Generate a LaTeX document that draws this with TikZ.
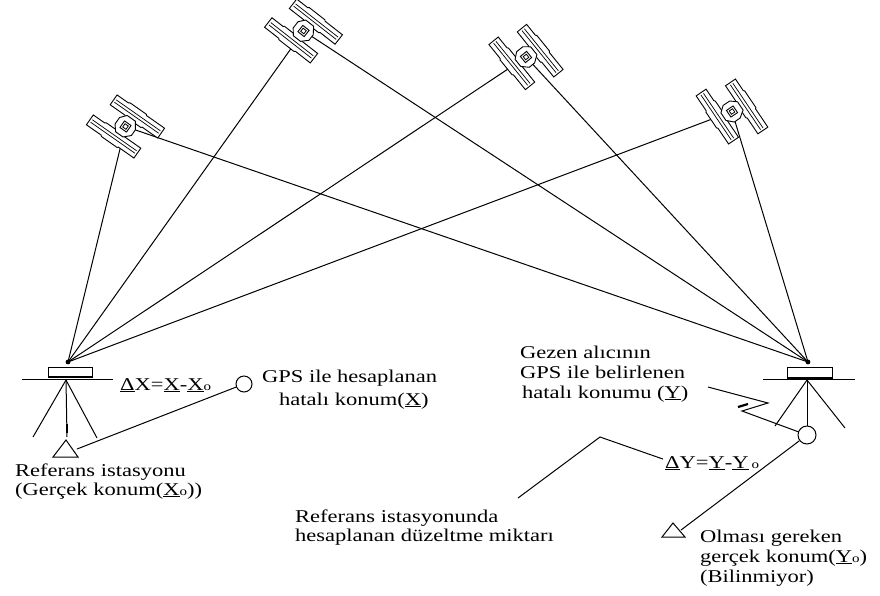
\documentclass[tikz,border=0pt]{standalone}
\usepackage{fontspec}
\setmainfont{Liberation Serif}[FakeStretch=1.25]
\newcommand\subo{{\fontsize{12}{12}\selectfont o}}
\begin{document}
\begin{tikzpicture}[x=1pt,y=-1pt,
  wire/.style={line width=1pt},
  lbl/.style={anchor=base west,inner sep=0pt,font=\fontsize{18}{20}\selectfont},
  ring/.style={draw,circle,line width=1pt,inner sep=0pt},
  sat/.pic={
    % two solar panels either side of the body
    \foreach \dx/\dy in {4/-15,-4/15}{
      \filldraw[fill=white,line width=0.9pt]
        (\dx-29,\dy-6) -- (\dx-15,\dy-6) -- (\dx-14,\dy-7) -- (\dx+6,\dy-7) -- (\dx+7,\dy-6)
        -- (\dx+29,\dy-6) -- (\dx+29,\dy+6) -- (\dx+10,\dy+6) -- (\dx+9,\dy+7) -- (\dx-10,\dy+7)
        -- (\dx-11,\dy+6) -- (\dx-29,\dy+6) -- cycle;
      \draw[line width=0.7pt] (\dx-27,\dy-1.5) -- (\dx+27,\dy-1.5);
      \draw[line width=0.7pt] (\dx-27,\dy+1.5) -- (\dx+27,\dy+1.5);
    }
    % body
    \filldraw[fill=white,line width=0.9pt] (-10,-4) -- (-5,-10) -- (5,-10) -- (10,-3) -- (10,4) -- (4,10) -- (-5,10) -- (-10,4) -- cycle;
    \draw[line width=0.9pt] (-4,-4) rectangle (4,4);
    \draw[line width=0.8pt] (-2,-2) rectangle (2,2);
  }
]
\useasboundingbox[fill=white] (0,0) rectangle (880,595);

% satellites and receiver antennas
\coordinate (s1) at (125.5,126.5);
\coordinate (s2) at (303.5,31);
\coordinate (s3) at (526,57);
\coordinate (s4) at (732,111.5);
\coordinate (L) at (68,362);
\coordinate (R) at (808,362);

% signal paths
\foreach \s in {s1,s2,s3,s4}{
  \draw[wire] (\s) -- (L);
  \draw[wire] (\s) -- (R);
}
\fill (L) circle (2.4);
\fill (R) circle (2.4);

\pic[rotate=-35] at (s1) {sat};
\pic[rotate=-38] at (s2) {sat};
\pic[rotate=-51] at (s3) {sat};
\pic[rotate=-56] at (s4) {sat};

% reference station
\draw[wire] (48,367) rectangle (92,377);
\draw[line width=1.8pt] (48,377) -- (92,377);
\draw[wire] (22,379) -- (113,379);
\coordinate (Lfoot) at (66,380);
\coordinate (LlegA) at (33,437);
\coordinate (LlegB) at (67,437);
\coordinate (LlegC) at (97,438);
\draw[wire] (Lfoot) -- (LlegA);
\draw[wire] (Lfoot) -- (LlegB);
\draw[wire] (Lfoot) -- (LlegC);
\draw[line width=2.2pt] (67,424) -- (67,433);
\draw[wire] (66,440) -- (53,457) -- (78,457) -- cycle;
\coordinate (triL) at (77,449);
\node[ring,minimum size=16] (cL) at (244,384) {};
\draw[wire] (triL) -- (cL);

% rover
\draw[wire] (787,367) rectangle (832,378);
\draw[line width=1.8pt] (787,378) -- (832,378);
\draw[wire] (763,379) -- (855,379);
\coordinate (Rfoot) at (807,380);
\node[ring,minimum size=18] (cR) at (807,435) {};
\coordinate (RlegA) at (775,426);
\coordinate (RlegC) at (845,428);
\draw[wire] (Rfoot) -- (cR);
\draw[wire] (Rfoot) -- (RlegA);
\draw[wire] (Rfoot) -- (RlegC);
\coordinate (zz) at (708,387);
\draw[wire] (zz) -- (768,403) -- (742,411) -- (cR);
\draw[line width=2.2pt] (738,407) -- (748,404);
\draw[wire] (673,523) -- (662,537) -- (685,537) -- cycle;
\coordinate (triR) at (681,530);
\draw[wire] (cR) -- (triR);

% labels
\node[lbl] (dx) at (120,390) {\underline{Δ}X=\underline{X}-\underline{X}\subo};
\node[lbl] (gpsX1) at (262,382) {GPS ile hesaplanan};
\node[lbl] (gpsX2) at (279,405) {hatalı konum(\underline{X})};
\node[lbl] (ref1) at (15,476) {Referans istasyonu};
\node[lbl] (ref2) at (15,495) {(Gerçek konum(\underline{X}\subo))};
\node[lbl] (gz1) at (520,358) {Gezen alıcının};
\node[lbl] (gz2) at (520,378) {GPS ile belirlenen};
\node[lbl] (gz3) at (522,398) {hatalı konumu (\underline{Y})};
\node[lbl] (dy) at (665,468) {\underline{Δ}Y=\underline{Y}-\underline{Y}\,\subo};
\node[lbl] (cor1) at (295,522) {Referans istasyonunda};
\node[lbl] (cor2) at (295,541) {hesaplanan düzeltme miktarı};
\node[lbl] (ol1) at (700,542) {Olması gereken};
\node[lbl] (ol2) at (700,562) {gerçek konum(\underline{Y}\subo)};
\node[lbl] (ol3) at (700,582) {(Bilinmiyor)};

\coordinate (peak) at (600,437);
\coordinate (corEnd) at (518,498);
\draw[wire] (dy.west) ++(-2,-4) -- (peak) -- (corEnd);
\end{tikzpicture}
\end{document}
